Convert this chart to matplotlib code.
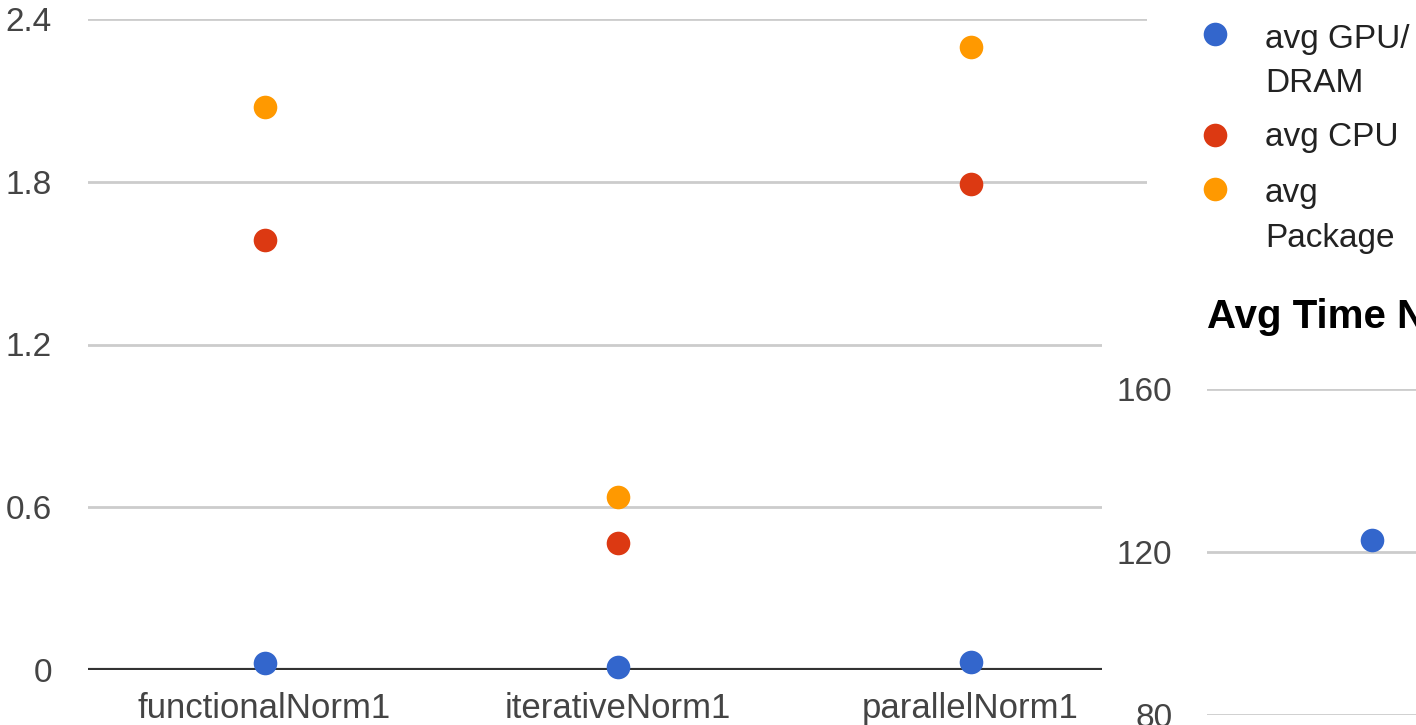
import numpy as np
import matplotlib.pyplot as plt
from matplotlib.lines import Line2D
from matplotlib.patches import Rectangle

plt.rcParams['font.family'] = ['Liberation Sans', 'DejaVu Sans']

W, H = 1416, 725

# energy per implementation
methods = ['functionalNorm1', 'iterativeNorm1', 'parallelNorm1']
avg_gpu_dram = [0.027, 0.010, 0.028]
avg_cpu = [1.585, 0.469, 1.791]
avg_package = [2.076, 0.637, 2.296]
series_names = ['avg GPU/\nDRAM', 'avg CPU', 'avg\nPackage']
series_colors = ['#3366cc', '#dc3912', '#ff9900']
energy_ticks = [0, 0.6, 1.2, 1.8, 2.4]

# second chart: average time
time_title = 'Avg Time Norm1'
time_methods = ['functionalNorm1']
avg_time = [122.9]
time_ticks = [80, 120, 160]

TICK = '#444444'
GRID = '#cccccc'


def fx(px):
    return px / W


def fy(py):
    return 1 - py / H


fig = plt.figure(figsize=(W / 100, H / 100), dpi=100)
fig.patch.set_facecolor('white')

# main scatter chart
ax = fig.add_axes([fx(88), fy(670), fx(1147) - fx(88), fy(19) - fy(670)])
x = np.arange(len(methods))
for vals, col in zip([avg_gpu_dram, avg_cpu, avg_package], series_colors):
    ax.plot(x, vals, 'o', color=col, markersize=17, markeredgewidth=0,
            clip_on=False, zorder=3)
ax.set_xlim(-0.5, len(methods) - 0.5)
ax.set_ylim(0, 2.4)
ax.set_yticks(energy_ticks)
ax.set_yticklabels(['0', '0.6', '1.2', '1.8', '2.4'])
ax.set_xticks(x)
ax.set_xticklabels(methods)
ax.tick_params(axis='y', length=0, pad=26, labelsize=24, labelcolor=TICK)
ax.tick_params(axis='x', length=0, pad=16, labelsize=25, labelcolor=TICK)
ax.grid(axis='y', color=GRID, linewidth=2)
ax.set_axisbelow(True)
for s in ax.spines.values():
    s.set_visible(False)
ax.axhline(0, color='#333333', linewidth=3, zorder=2)

# legend, one entry per series
legend_rows = [(34, [48, 92]), (135, [146]), (189, [202, 247])]
for name, col, (my, baselines) in zip(series_names, series_colors, legend_rows):
    fig.add_artist(Line2D([fx(1215)], [fy(my)], marker='o', color=col,
                          markersize=17, markeredgewidth=0,
                          transform=fig.transFigure))
    for line, by in zip(name.split('\n'), baselines):
        fig.text(fx(1265), fy(by), line, fontsize=24, color='#222222',
                 va='baseline', ha='left')

# panel of the next chart sits on top of the first one
fig.add_artist(Rectangle((fx(1102), 0), 1 - fx(1102), fy(265),
                         transform=fig.transFigure, facecolor='white',
                         edgecolor='none', zorder=5))
fig.text(fx(1207), fy(328), time_title, fontsize=29, fontweight='bold',
         color='#000000', va='baseline', ha='left', zorder=6)

ax2 = fig.add_axes([fx(1207), fy(715), fx(990), fy(389) - fy(715)])
ax2.set_zorder(6)
ax2.patch.set_alpha(0)
tx = np.arange(len(time_methods))
ax2.plot(tx, avg_time, 'o', color=series_colors[0], markersize=17,
         markeredgewidth=0, zorder=3)
ax2.set_xlim(-1, 5)
ax2.set_ylim(80, 160)
ax2.set_yticks(time_ticks)
ax2.set_xticks([])
ax2.tick_params(axis='y', length=0, pad=25, labelsize=24, labelcolor=TICK)
ax2.grid(axis='y', color=GRID, linewidth=2)
ax2.set_axisbelow(True)
for s in ax2.spines.values():
    s.set_visible(False)

fig.savefig('out.png', dpi=100)
